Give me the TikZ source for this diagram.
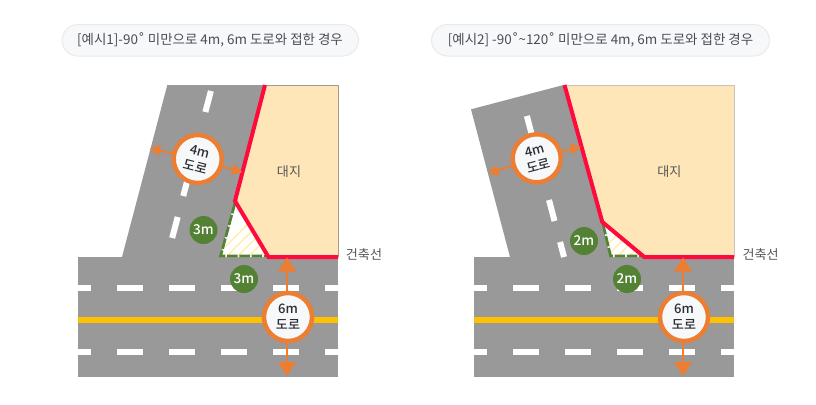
\documentclass[tikz,border=0pt]{standalone}
\usepackage{fontspec}
\usetikzlibrary{arrows.meta}
\setmainfont{Noto Sans CJK KR}
\newfontfamily\degfont{DejaVu Sans}
\newfontfamily\medfont[UprightFont=* Medium]{Noto Sans CJK KR}
\newcommand{\rdeg}{{\degfont ˚}}
\begin{document}
\begin{tikzpicture}[x=0.75pt,y=-0.75pt,
  roadfill/.style={fill=roadgrey,draw=none},
  whitedash/.style={draw=white,line width=4.5pt},
  centerline/.style={draw=laneyellow,line width=4.5pt},
  landfill/.style={fill=landcol,draw=none},
  landedge/.style={draw=#1,line width=0.75pt},
  redline/.style={draw=redcol,line width=3pt,line join=miter},
  sightborder/.style={draw=greencol,line width=2pt,dash pattern=on 8pt off 1.2pt},
  hatchline/.style={draw=hatchcol,line width=1pt},
  ring/.style={circle,draw=orangecol,line width=3.3pt,fill=ringfill,minimum size=36pt,inner sep=0pt,align=center,text=inktext,font=\medfont\fontsize{9.8}{12.2}\selectfont},
  badge/.style={circle,fill=greencol,minimum size=21pt,inner sep=0pt,text=white,font=\medfont\fontsize{10.2}{11}\selectfont},
  pill/.style={rounded corners=12pt,draw=pilledge,fill=ringfill,line width=0.75pt},
  pilltext/.style={text=pilltextcol,inner sep=0pt,font=\fontsize{10.1}{12}\selectfont},
  labeltext/.style={text=labelcol,inner sep=0pt,font=\fontsize{9.8}{12}\selectfont},
  smallarrow/.style={draw=orangecol,line width=1.5pt,-{Triangle[length=7.5pt,width=8pt]}},
  bigarrow/.style={draw=orangecol,line width=2pt,-{Triangle[length=10.5pt,width=13pt]}},
]
\definecolor{roadgrey}{HTML}{999999}
\definecolor{laneyellow}{HTML}{FFC000}
\definecolor{landcol}{HTML}{FFE6B8}
\definecolor{redcol}{HTML}{FF0A3C}
\definecolor{greencol}{HTML}{548235}
\definecolor{hatchcol}{HTML}{FFECA0}
\definecolor{orangecol}{HTML}{ED7D31}
\definecolor{ringfill}{HTML}{F7F8FA}
\definecolor{inktext}{HTML}{2B2D33}
\definecolor{pilledge}{HTML}{E8EAED}
\definecolor{pilltextcol}{HTML}{4A4D55}
\definecolor{labelcol}{HTML}{555555}
\definecolor{edgeA}{HTML}{A39C8E}
\definecolor{edgeB}{HTML}{C9C3B8}
\useasboundingbox (0,0) rectangle (816,404);
\fill[white] (0,0) rectangle (816,404);

% ---------- titles
\draw[pill] (62,24.5) rectangle (358.5,56);
\node[pilltext] (title1) at (210,40) {[예시1]-90\rdeg{} 미만으로 4m, 6m 도로와 접한 경우};
\draw[pill] (431.5,24.5) rectangle (769.5,56);
\node[pilltext] (title2) at (600.5,40) {[예시2] -90\rdeg{}\textasciitilde120\rdeg{} 미만으로 4m, 6m 도로와 접한 경우};

% ---------- example 1
\fill[roadfill] (167.3,85) -- (265,85) -- (235,201) -- (220,257) -- (122,257) -- cycle;
\fill[roadfill] (78,257) rectangle (338,377);
\foreach \a/\b in {78/91,117/143,169/195,221/247,273/299,325/338}{
  \draw[whitedash] (\a,288) -- (\b,288);
  \draw[whitedash] (\a,352) -- (\b,352);
}
\draw[centerline] (78,320) -- (338,320);
\foreach \t/\e in {91/112,137/154,175/196,217/238}{
  \draw[whitedash] ({177.7-(\t-217)*0.2635},\t) -- ({177.7-(\e-217)*0.2635},\e);
}
\fill[landfill] (265,85) -- (338,85) -- (338,257) -- (268,257) -- (235,201) -- cycle;
\draw[landedge=edgeA] (265,85) -- (338,85) -- (338,257);
\fill[white] (235,201) -- (220,257) -- (268,257) -- cycle;
\begin{scope}
  \clip (235,201) -- (220,257) -- (268,257) -- cycle;
  \foreach \k in {0,...,12}{ \draw[hatchline] (210+\k*11,262) -- (270+\k*11,202); }
\end{scope}
\draw[sightborder] (235,203) -- (220.6,256) -- (268,256);
\draw[redline] (265,85) -- (235,201) -- (268.5,257) -- (338,257);

\node[badge] (b1a) at (203.5,230) {3m};
\node[badge] (b1b) at (244,279) {3m};
\node[labeltext] (land1) at (289,172) {대지};
\node[labeltext] (line1) at (364,255) {건축선};

\node[ring,rotate=-14.6] (c4a) at (197.7,159) {4m\\도로};
\coordinate (c4aL) at (150,148.3);
\coordinate (c4aR) at (242.3,172.3);
\draw[smallarrow] (c4a) -- (c4aL);
\draw[smallarrow] (c4a) -- (c4aR);
\node[ring] (c6a) at (288,317) {6m\\도로};
\coordinate (c6aU) at (287,257.5);
\coordinate (c6aD) at (287,376);
\draw[bigarrow] (c6a.north -| c6aU) -- (c6aU);
\draw[bigarrow] (c6a.south -| c6aD) -- (c6aD);

% ---------- example 2
\fill[roadfill] (563.5,85) -- (471,109.3) -- (510,257) -- (610,257) -- (602,222) -- cycle;
\fill[roadfill] (474,257) rectangle (734,377);
\foreach \a/\b in {474/487,513/539,565/591,617/643,669/695,721/734}{
  \draw[whitedash] (\a,288) -- (\b,288);
  \draw[whitedash] (\a,352) -- (\b,352);
}
\draw[centerline] (474,320) -- (734,320);
\foreach \t/\e in {116/137,158/179,200/221,242/257}{
  \draw[whitedash] ({549+(\t-200)*0.2635},\t) -- ({549+(\e-200)*0.2635},\e);
}
\fill[landfill] (564.5,85) -- (734,85) -- (734,257) -- (644,257) -- (602,222) -- cycle;
\draw[landedge=edgeB] (564.5,85) -- (734,85) -- (734,257);
\fill[white] (602,222) -- (610,257) -- (644,257) -- cycle;
\begin{scope}
  \clip (602,222) -- (610,257) -- (644,257) -- cycle;
  \foreach \k in {0,...,8}{ \draw[hatchline] (590+\k*11,262) -- (650+\k*11,202); }
\end{scope}
\draw[sightborder] (603,224) -- (610.6,256) -- (644,256);
\draw[redline] (564.5,85) -- (602.3,222) -- (644.3,257) -- (734,257);

\node[badge] (b2a) at (584,241) {2m};
\node[badge] (b2b) at (627,279) {2m};
\node[labeltext] (land2) at (669.3,172) {대지};
\node[labeltext] (line2) at (760.7,255) {건축선};

\node[ring,rotate=14.6] (c4b) at (536.7,158.3) {4m\\도로};
\coordinate (c4bL) at (488.3,173.3);
\coordinate (c4bR) at (580.7,146.7);
\draw[smallarrow] (c4b) -- (c4bL);
\draw[smallarrow] (c4b) -- (c4bR);
\node[ring] (c6b) at (684,317) {6m\\도로};
\coordinate (c6bU) at (683,257.5);
\coordinate (c6bD) at (683,376);
\draw[bigarrow] (c6b.north -| c6bU) -- (c6bU);
\draw[bigarrow] (c6b.south -| c6bD) -- (c6bD);
\end{tikzpicture}
\end{document}
